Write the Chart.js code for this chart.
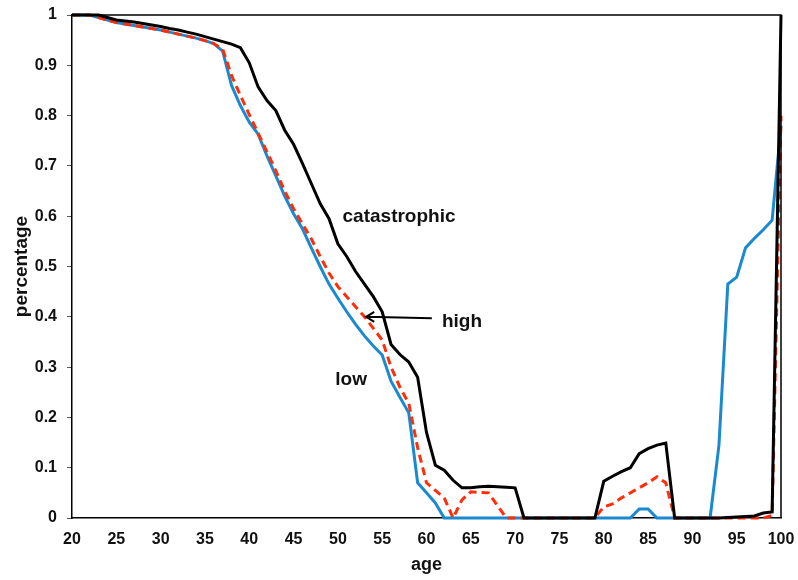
<!DOCTYPE html>
<html>
<head>
<meta charset="utf-8">
<script src="https://cdn.jsdelivr.net/npm/chart.js@4/dist/chart.umd.min.js"></script>
<style>
  html, body { margin: 0; padding: 0; background: #fff; }
  #wrap { width: 798px; height: 580px; position: relative; }
</style>
</head>
<body>
<div id="wrap"><canvas id="myChart"></canvas></div>
<script>
// ====== data (age 20..100) ======
const ages = Array.from({ length: 81 }, (_, i) => 20 + i);

const catastrophic = [
  1, 1, 1, 1, 0.995, 0.99, 0.988, 0.986, 0.983, 0.98,
  0.977, 0.973, 0.97, 0.966, 0.962, 0.957, 0.952, 0.947, 0.942, 0.935,
  0.905, 0.857, 0.83, 0.81, 0.771, 0.743, 0.705, 0.665, 0.625, 0.595,
  0.545, 0.52, 0.49, 0.465, 0.44, 0.41, 0.345, 0.325, 0.31, 0.28,
  0.17, 0.105, 0.095, 0.075, 0.06, 0.06, 0.062, 0.063, 0.062, 0.061,
  0.06, 0, 0, 0, 0, 0, 0, 0, 0, 0,
  0.073, 0.083, 0.092, 0.1, 0.128, 0.138, 0.145, 0.149, 0, 0,
  0, 0, 0, 0, 0.001, 0.002, 0.003, 0.004, 0.01, 0.012,
  1
];

const high = [
  1, 1, 1, 0.995, 0.99, 0.985, 0.982, 0.979, 0.976, 0.973,
  0.97, 0.966, 0.962, 0.958, 0.954, 0.949, 0.943, 0.932, 0.88, 0.84,
  0.802, 0.765, 0.728, 0.69, 0.65, 0.615, 0.585, 0.555, 0.52, 0.487,
  0.46, 0.44, 0.42, 0.4, 0.377, 0.354, 0.3, 0.26, 0.228, 0.14,
  0.07, 0.055, 0.04, 0, 0.036, 0.052, 0.051, 0.05, 0.025, 0,
  0, 0, 0, 0, 0, 0, 0, 0, 0, 0,
  0.022, 0.028, 0.04, 0.05, 0.06, 0.07, 0.082, 0.07, 0, 0,
  0, 0, 0, 0, 0, 0, 0, 0, 0, 0.005,
  0.8
];

const low = [
  1, 1, 1, 0.995, 0.99, 0.985, 0.982, 0.979, 0.976, 0.973,
  0.97, 0.966, 0.962, 0.958, 0.954, 0.949, 0.943, 0.928, 0.86, 0.82,
  0.787, 0.763, 0.72, 0.68, 0.64, 0.605, 0.575, 0.537, 0.5, 0.465,
  0.437, 0.41, 0.385, 0.362, 0.342, 0.324, 0.272, 0.24, 0.209, 0.07,
  0.05, 0.03, 0, 0, 0, 0, 0, 0, 0, 0,
  0, 0, 0, 0, 0, 0, 0, 0, 0, 0,
  0, 0, 0, 0, 0.018, 0.018, 0, 0, 0, 0,
  0, 0, 0, 0.145, 0.465, 0.479, 0.537, 0.556, 0.573, 0.592,
  0.78
];

const xTicks = [20, 25, 30, 35, 40, 45, 50, 55, 60, 65, 70, 75, 80, 85, 90, 95, 100];
const yTicks = [0, 0.1, 0.2, 0.3, 0.4, 0.5, 0.6, 0.7, 0.8, 0.9, 1];

// text labels on the plot (data coords)
const notes = [
  { text: "catastrophic", age: 56.9, val: 0.598 },
  { text: "high", age: 64.0, val: 0.39 },
  { text: "low", age: 51.5, val: 0.274 },
];
const arrowFrom = { age: 60.6, val: 0.397 };
const arrowTo = { age: 53.2, val: 0.4 };

const FONT = "'Liberation Sans', Arial, sans-serif";
const toXY = (arr) => arr.map((v, i) => ({ x: ages[i], y: v }));

// kotak plot + teks + panah
const extras = {
  id: "extras",
  afterDatasetsDraw(chart) {
    const { ctx, chartArea: a, scales } = chart;
    const sx = scales.x, sy = scales.y;
    ctx.save();
    ctx.strokeStyle = "#000";
    ctx.lineWidth = 1.5;
    ctx.beginPath();
    ctx.moveTo(a.left, a.top);
    ctx.lineTo(a.right, a.top);
    ctx.lineTo(a.right, a.bottom);
    ctx.stroke();

    ctx.fillStyle = "#111";
    ctx.font = "bold 19px " + FONT;
    ctx.textAlign = "center";
    ctx.textBaseline = "middle";
    notes.forEach((n) => {
      ctx.fillText(n.text, sx.getPixelForValue(n.age), sy.getPixelForValue(n.val));
    });

    // arrow
    const x1 = sx.getPixelForValue(arrowFrom.age), y1 = sy.getPixelForValue(arrowFrom.val);
    const x2 = sx.getPixelForValue(arrowTo.age), y2 = sy.getPixelForValue(arrowTo.val);
    ctx.strokeStyle = "#000";
    ctx.lineWidth = 2;
    ctx.beginPath();
    ctx.moveTo(x1, y1);
    ctx.lineTo(x2, y2);
    ctx.moveTo(x2 + 8, y2 - 5);
    ctx.lineTo(x2, y2);
    ctx.lineTo(x2 + 8, y2 + 5);
    ctx.stroke();
    ctx.restore();
  },
};

const ctx = document.getElementById("myChart").getContext("2d");
new Chart(ctx, {
  type: "line",
  data: {
    datasets: [
      { label: "catastrophic", data: toXY(catastrophic), borderColor: "#000000", borderWidth: 3, order: 0 },
      { label: "high", data: toXY(high), borderColor: "#ff2d0a", borderWidth: 3, borderDash: [8, 5], order: 1 },
      { label: "low", data: toXY(low), borderColor: "#1a8ad0", borderWidth: 3, order: 2 },
    ],
  },
  options: {
    responsive: true,
    maintainAspectRatio: false,
    animation: false,
    clip: false,
    elements: { point: { radius: 0 }, line: { tension: 0, borderCapStyle: "butt" } },
    layout: { padding: { top: 15, right: 17, left: 10, bottom: 0 } },
    plugins: { legend: { display: false }, tooltip: { enabled: false } },
    scales: {
      x: {
        type: "linear",
        min: 20,
        max: 100,
        afterBuildTicks: (s) => { s.ticks = xTicks.map((v) => ({ value: v })); },
        afterFit: (s) => { s.height = 62; s.paddingLeft = 0; s.paddingRight = 0; },
        grid: { display: false, drawTicks: false },
        border: { color: "#000", width: 1.5 },
        ticks: { color: "#111", font: { family: FONT, size: 16, weight: "bold" }, padding: 12, maxRotation: 0 },
        title: { display: true, text: "age", color: "#111", font: { family: FONT, size: 18, weight: "bold" }, padding: { top: 0, bottom: 4 } },
      },
      y: {
        min: 0,
        max: 1,
        afterBuildTicks: (s) => { s.ticks = yTicks.map((v) => ({ value: v })); },
        afterFit: (s) => { s.width = 62; s.paddingTop = 0; s.paddingBottom = 0; },
        grid: { display: true, drawOnChartArea: false, tickLength: 5, color: "#555" },
        border: { color: "#000", width: 1.5 },
        ticks: { color: "#111", font: { family: FONT, size: 16, weight: "bold" }, padding: 10, callback: (v) => String(v) },
        title: { display: true, text: "percentage", color: "#111", font: { family: FONT, size: 19, weight: "bold" }, padding: { top: 0, bottom: 0 } },
      },
    },
  },
  plugins: [extras],
});
</script>
</body>
</html>
